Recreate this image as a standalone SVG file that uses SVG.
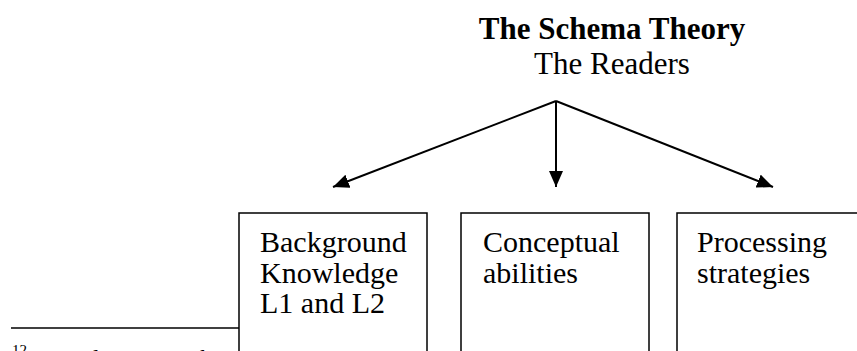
<svg xmlns="http://www.w3.org/2000/svg" width="857" height="351" viewBox="0 0 857 351">
<style>
text{font-family:"Liberation Serif","Times New Roman",serif;fill:#000}
.title{font-size:31px;font-weight:bold}
.sub{font-size:31px}
.lbl{font-size:30px}
.foot{font-size:24px}
.sup{font-size:15px}
.box{fill:#fff;stroke:#000;stroke-width:1.5}
.conn{stroke:#000;stroke-width:2;fill:none;marker-end:url(#ah)}
</style>
<defs>
<marker id="ah" markerUnits="userSpaceOnUse" markerWidth="16" markerHeight="14" refX="16" refY="7" orient="auto">
<path d="M0,0 L16,7 L0,14 Z" fill="#000"/>
</marker>
</defs>
<rect width="857" height="351" fill="#fff"/>
<g id="footnote">
<line x1="11" y1="328" x2="239" y2="328" stroke="#000" stroke-width="1.5"/>
<text class="sup" x="12" y="355">12</text>
<text class="foot" x="39" y="366">Sajjadi, Rezvaneh</text>
<text class="foot" x="432" y="366">D</text>
</g>
<g id="title">
<text class="title" x="612" y="39" text-anchor="middle">The Schema Theory</text>
<text class="sub" x="612" y="74" text-anchor="middle">The Readers</text>
</g>
<g id="connectors">
<line class="conn" x1="556" y1="101" x2="333" y2="187"/>
<line class="conn" x1="556" y1="101" x2="556" y2="187"/>
<line class="conn" x1="556" y1="101" x2="773" y2="187"/>
</g>
<g id="background">
<rect class="box" x="239" y="213" width="188" height="160"/>
<text class="lbl" x="260" y="252">Background</text>
<text class="lbl" x="260" y="283">Knowledge</text>
<text class="lbl" x="260" y="313">L1 and L2</text>
</g>
<g id="conceptual">
<rect class="box" x="461" y="213" width="188" height="160"/>
<text class="lbl" x="483" y="252">Conceptual</text>
<text class="lbl" x="483" y="283">abilities</text>
</g>
<g id="processing">
<rect class="box" x="677" y="213" width="200" height="160"/>
<text class="lbl" x="697" y="252">Processing</text>
<text class="lbl" x="697" y="283">strategies</text>
</g>
</svg>
